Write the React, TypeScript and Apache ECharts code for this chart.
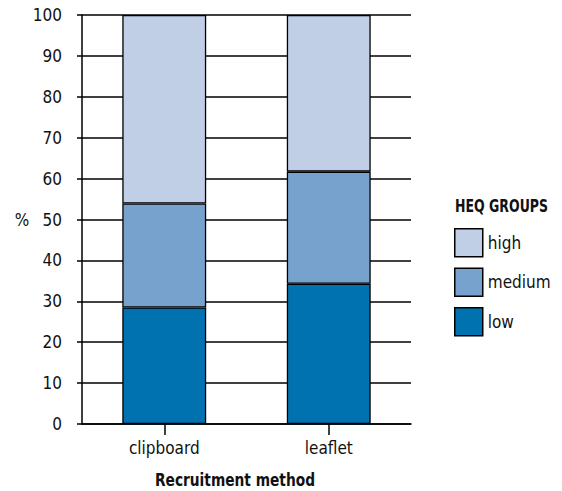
import React, { useEffect, useRef } from "react";
import * as echarts from "echarts";

const categories = ["clipboard", "leaflet"];
const lowValues = [28.5, 34.3];
const mediumValues = [25.4, 27.4];
const highValues = [46.1, 38.3];
const yTicks = [0, 10, 20, 30, 40, 50, 60, 70, 80, 90, 100];

const FONT = "'DejaVu Sans Condensed', 'Liberation Sans Narrow', sans-serif";

export default function App() {
  const ref = useRef<HTMLDivElement>(null);
  useEffect(() => {
    document.body.style.margin = "0";
    const chart = echarts.init(ref.current!, null, { renderer: "svg" });
    const border = { borderColor: "#000", borderWidth: 1.3 };
    chart.setOption({
      animation: false,
      backgroundColor: "#fff",
      textStyle: { fontFamily: FONT },
      grid: { left: 82, right: 151, top: 15, bottom: 67 },
      xAxis: {
        type: "category",
        data: categories,
        axisLine: { show: true, lineStyle: { color: "#000", width: 1.5 } },
        axisTick: { show: true, alignWithLabel: true, length: 11, lineStyle: { color: "#000", width: 1.5 } },
        axisLabel: { color: "#111", fontSize: 17, fontFamily: FONT, margin: 15 },
      },
      yAxis: {
        type: "value",
        min: yTicks[0],
        max: yTicks[yTicks.length - 1],
        interval: 10,
        axisLine: { show: true, lineStyle: { color: "#000", width: 1.5 } },
        axisTick: { show: true, length: 5, lineStyle: { color: "#000", width: 1.5 } },
        axisLabel: { color: "#111", fontSize: 17, fontFamily: FONT, margin: 20 },
        splitLine: { show: true, lineStyle: { color: "#000", width: 1.5 } },
      },
      legend: {
        orient: "vertical",
        left: 454,
        top: 228,
        padding: 0,
        icon: "rect",
        itemWidth: 28,
        itemHeight: 28,
        itemGap: 10,
        data: ["high", "medium", "low"],
        textStyle: { color: "#111", fontSize: 17, fontFamily: FONT },
        itemStyle: { borderColor: "#000", borderWidth: 1.5 },
      },
      graphic: [
        {
          type: "text",
          x: 455,
          y: 207,
          scaleX: 0.82,
          style: { text: "HEQ GROUPS", fill: "#111", font: `bold 17px ${FONT}`, align: "left", verticalAlign: "middle" },
        },
        {
          type: "text",
          x: 22,
          y: 220,
          style: { text: "%", fill: "#111", font: `17px ${FONT}`, align: "center", verticalAlign: "middle" },
        },
        {
          type: "text",
          x: 235,
          y: 480,
          scaleX: 0.9,
          style: { text: "Recruitment method", fill: "#111", font: `bold 17px ${FONT}`, align: "center", verticalAlign: "middle" },
        },
      ],
      series: [
        { name: "low", type: "bar", stack: "s", data: lowValues, barWidth: "51%", itemStyle: { color: "#0072b0", ...border } },
        { name: "medium", type: "bar", stack: "s", data: mediumValues, itemStyle: { color: "#77a2cd", ...border } },
        { name: "high", type: "bar", stack: "s", data: highValues, itemStyle: { color: "#c0cee6", ...border } },
      ],
    });
    return () => chart.dispose();
  }, []);
  return <div ref={ref} style={{ width: 562, height: 491 }} />;
}
